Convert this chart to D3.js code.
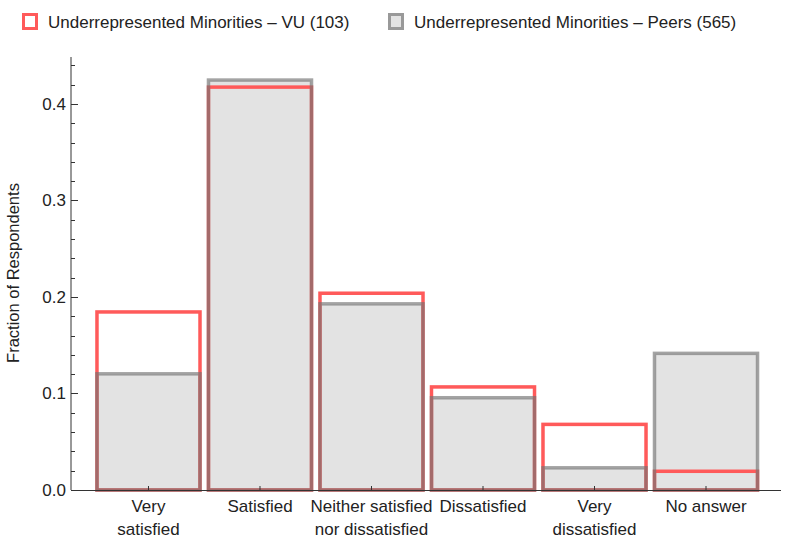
<!DOCTYPE html>
<html>
<head>
<meta charset="utf-8">
<script src="https://cdn.jsdelivr.net/npm/d3@7"></script>
<style>
  body { margin: 0; background: #fff; }
  svg { font-family: "Liberation Sans", Arial, sans-serif; }
</style>
</head>
<body>
<div id="chart"></div>
<script>
// data
var categories = ["Very satisfied", "Satisfied", "Neither satisfied nor dissatisfied", "Dissatisfied", "Very dissatisfied", "No answer"];
var categoryLines = [["Very", "satisfied"], ["Satisfied"], ["Neither satisfied", "nor dissatisfied"], ["Dissatisfied"], ["Very", "dissatisfied"], ["No answer"]];
var vuValues = [0.1845, 0.4175, 0.2039, 0.1068, 0.0680, 0.0194];
var peerValues = [0.1204, 0.4248, 0.1929, 0.0956, 0.0230, 0.1416];
var seriesNames = ["Underrepresented Minorities \u2013 VU (103)", "Underrepresented Minorities \u2013 Peers (565)"];
var yTicks = [0, 0.1, 0.2, 0.3, 0.4];

var W = 785, H = 557;
var fontSize = "17px";
var svg = d3.select("#chart").append("svg")
    .attr("width", W)
    .attr("height", H);

// scales
var x = d3.scaleBand()
    .domain(categories)
    .range([88.5, 766])
    .padding(0.076);

var y = d3.scaleLinear()
    .domain([0, 0.4487])
    .range([490, 57]);

var axisColor = "#333";

// gray fills first
svg.selectAll("rect.peerFill")
    .data(peerValues)
    .enter()
    .append("rect")
      .attr("class", "peerFill")
      .attr("x", function(d, i) { return x(categories[i]); })
      .attr("y", function(d) { return y(d); })
      .attr("width", x.bandwidth())
      .attr("height", function(d) { return y(0) - y(d); })
      .style("fill", "#e3e3e3");

// red outlines
svg.selectAll("rect.vu")
    .data(vuValues)
    .enter()
    .append("rect")
      .attr("class", "vu")
      .attr("x", function(d, i) { return x(categories[i]); })
      .attr("y", function(d) { return y(d); })
      .attr("width", x.bandwidth())
      .attr("height", function(d) { return y(0) - y(d); })
      .style("fill", "none")
      .style("stroke", "#ff5a5a")
      .style("stroke-width", 3.5);

// gray outlines on top
svg.selectAll("rect.peerLine")
    .data(peerValues)
    .enter()
    .append("rect")
      .attr("class", "peerLine")
      .attr("x", function(d, i) { return x(categories[i]); })
      .attr("y", function(d) { return y(d); })
      .attr("width", x.bandwidth())
      .attr("height", function(d) { return y(0) - y(d); })
      .style("fill", "none")
      .style("stroke", "rgba(115,115,115,0.65)")
      .style("stroke-width", 3.5);

// y axis
var yAxis = svg.append("g")
    .attr("transform", "translate(71,0)");
yAxis.append("line")
    .attr("x1", 0).attr("x2", 0)
    .attr("y1", y.range()[1]).attr("y2", y(0))
    .style("stroke", axisColor);
var minor = d3.range(0, 0.445, 0.02);
yAxis.selectAll("line.minor")
    .data(minor)
    .enter()
    .append("line")
      .attr("x1", 0).attr("x2", 4)
      .attr("y1", function(d) { return Math.round(y(d)) + 0.5; })
      .attr("y2", function(d) { return Math.round(y(d)) + 0.5; })
      .style("stroke", axisColor);
yAxis.selectAll("line.major")
    .data(yTicks)
    .enter()
    .append("line")
      .attr("x1", 0).attr("x2", 7)
      .attr("y1", function(d) { return Math.round(y(d)) + 0.5; })
      .attr("y2", function(d) { return Math.round(y(d)) + 0.5; })
      .style("stroke", axisColor);
yAxis.selectAll("text")
    .data(yTicks)
    .enter()
    .append("text")
      .attr("x", -5)
      .attr("y", function(d) { return y(d); })
      .attr("dy", "0.35em")
      .attr("text-anchor", "end")
      .style("font-size", fontSize)
      .style("fill", "#222")
      .text(function(d) { return d3.format(".1f")(d); });

// x axis
var xAxis = svg.append("g");
xAxis.append("line")
    .attr("x1", 71).attr("x2", 781)
    .attr("y1", 490.5).attr("y2", 490.5)
    .style("stroke", axisColor);
xAxis.selectAll("line.tick")
    .data(categories)
    .enter()
    .append("line")
      .attr("x1", function(d) { return x(d) + x.bandwidth() / 2; })
      .attr("x2", function(d) { return x(d) + x.bandwidth() / 2; })
      .attr("y1", 490).attr("y2", 486)
      .style("stroke", axisColor);
var labels = xAxis.selectAll("text")
    .data(categories)
    .enter()
    .append("text")
      .attr("text-anchor", "middle")
      .style("font-size", fontSize)
      .style("fill", "#222");
labels.each(function(d, i) {
  var cx = x(d) + x.bandwidth() / 2;
  d3.select(this).selectAll("tspan")
    .data(categoryLines[i])
    .enter()
    .append("tspan")
      .attr("x", cx)
      .attr("y", function(t, j) { return 512 + j * 22.5; })
      .text(function(t) { return t; });
});

// Y label
svg.append("text")
    .attr("transform", "translate(19,273) rotate(-90)")
    .attr("text-anchor", "middle")
    .style("font-size", "16.5px")
    .style("fill", "#222")
    .text("Fraction of Respondents");

// legend
var legend = svg.append("g");
legend.append("rect")
    .attr("x", 23.5).attr("y", 14.5)
    .attr("width", 13).attr("height", 14)
    .style("fill", "#fff")
    .style("stroke", "#ff5a5a")
    .style("stroke-width", 3);
legend.append("text")
    .attr("x", 48).attr("y", 28)
    .style("font-size", fontSize)
    .style("fill", "#222")
    .text(seriesNames[0]);
legend.append("rect")
    .attr("x", 389.5).attr("y", 14.5)
    .attr("width", 13).attr("height", 14)
    .style("fill", "#e3e3e3")
    .style("stroke", "#999")
    .style("stroke-width", 3);
legend.append("text")
    .attr("x", 414).attr("y", 28)
    .style("font-size", fontSize)
    .style("fill", "#222")
    .text(seriesNames[1]);
</script>
</body>
</html>
